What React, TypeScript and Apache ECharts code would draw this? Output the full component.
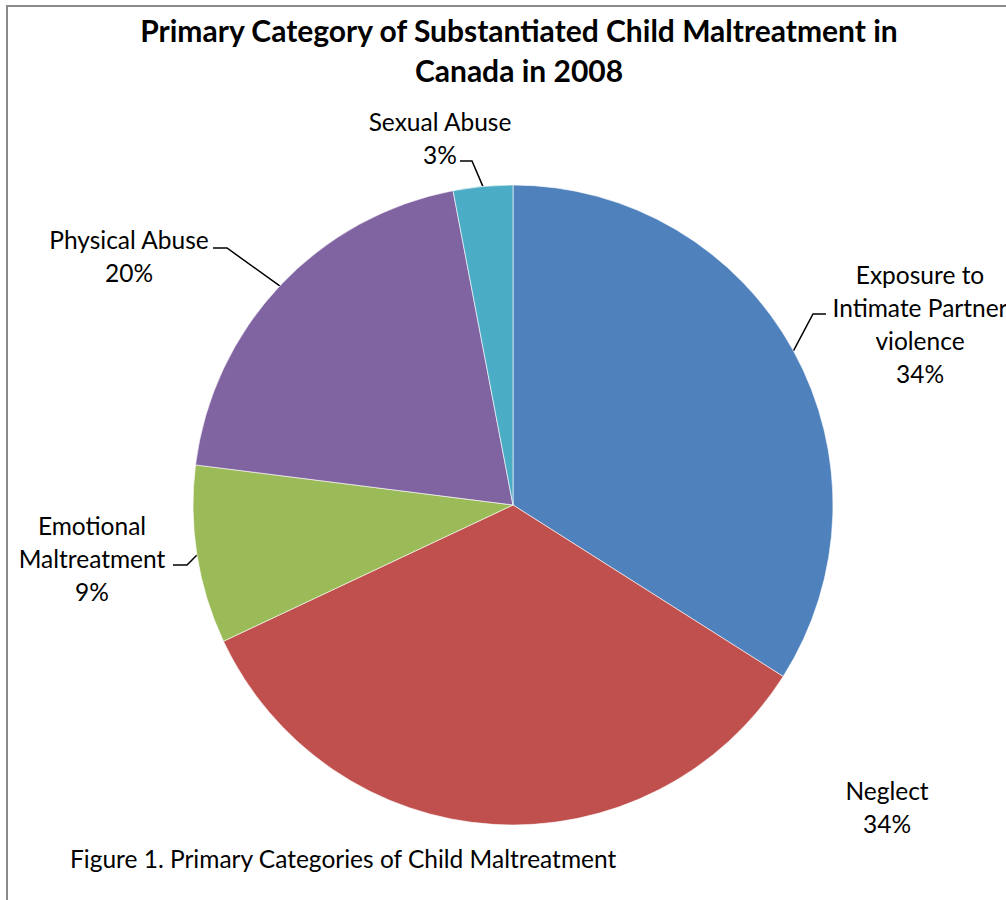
import React, { useEffect, useRef } from "react";
import * as echarts from "echarts";

// ---- data ----
const categories = [
  "Exposure to Intimate Partner violence",
  "Neglect",
  "Emotional Maltreatment",
  "Physical Abuse",
  "Sexual Abuse",
];
const labelNames = [
  "Exposure to\nIntimate Partner\nviolence",
  "Neglect",
  "Emotional\nMaltreatment",
  "Physical Abuse",
  "Sexual Abuse",
];
const values = [34, 34, 9, 20, 3];
const titleLines = [
  "Primary Category of Substantiated Child Maltreatment in",
  "Canada in 2008",
];
const caption = "Figure 1. Primary Categories of Child Maltreatment";

// ---- styles / layout ----
const colors = ["#4F81BD", "#C0504D", "#9BBB59", "#8064A2", "#4BACC6"];
const FONT = "Lato";
const labelCenters: number[][] = [
  [920, 324],
  [887, 807],
  [92, 558],
  [129, 256],
  [440, 138],
];
const leaderElbows: (number[][] | null)[] = [
  [[813, 314], [826, 314]],
  null,
  [[187, 565], [173, 565]],
  [[227, 248], [213, 248]],
  [[472, 161], [460, 161]],
];

export default function App() {
  const ref = useRef<HTMLDivElement>(null);
  useEffect(() => {
    if (!ref.current) return;
    const chart = echarts.init(ref.current, undefined, { renderer: "svg" });
    chart.setOption({
      animation: false,
      backgroundColor: "#ffffff",
      graphic: [
        {
          type: "rect",
          shape: { x: 7, y: 6, width: 1200, height: 1200 },
          style: { fill: "none", stroke: "#8a8a8a", lineWidth: 2 },
          silent: true,
          z: 0,
        },
        ...titleLines.map((t, i) => ({
          type: "text",
          x: 519,
          y: 30 + i * 40,
          style: {
            text: t,
            fontSize: 30,
            fontWeight: "bold",
            fontFamily: FONT,
            fill: "#000",
            align: "center",
            verticalAlign: "middle",
          },
        })),
        {
          type: "text",
          x: 70,
          y: 858,
          style: {
            text: caption,
            fontSize: 24.5,
            fontFamily: FONT,
            fill: "#000",
            align: "left",
            verticalAlign: "middle",
          },
        },
      ],
      series: [
        {
          type: "pie",
          center: [513, 505],
          radius: 320,
          startAngle: 90,
          clockwise: true,
          color: colors,
          itemStyle: { borderColor: "rgba(255,255,255,0.6)", borderWidth: 1 },
          emphasis: { disabled: true },
          label: {
            show: true,
            position: "outside",
            fontFamily: FONT,
            fontSize: 24.5,
            lineHeight: 33,
            color: "#000",
            align: "center",
            overflow: "none",
            formatter: (p: any) =>
              labelNames[p.dataIndex] + "\n" + Math.round(p.percent) + "%",
          },
          labelLine: {
            show: true,
            lineStyle: { color: "#000", width: 1.5 },
          },
          labelLayout: (p: any) => {
            const i = p.dataIndex;
            const res: any = {
              x: labelCenters[i][0],
              y: labelCenters[i][1],
              align: "center",
              verticalAlign: "middle",
            };
            const el = leaderElbows[i];
            if (el && p.labelLinePoints) {
              res.labelLinePoints = [p.labelLinePoints[0], el[0], el[1]];
            }
            return res;
          },
          data: categories.map((c, i) => ({
            name: c,
            value: values[i],
            labelLine: leaderElbows[i] ? undefined : { show: false },
          })),
        },
      ],
    });
    return () => chart.dispose();
  }, []);
  return (
    <div
      ref={ref}
      style={{ position: "absolute", left: 0, top: 0, width: 1006, height: 900 }}
    />
  );
}
